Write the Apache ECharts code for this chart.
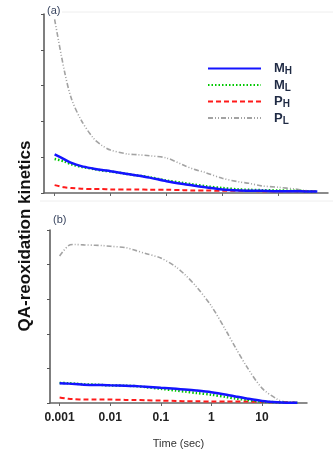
<!DOCTYPE html>
<html>
<head>
<meta charset="utf-8">
<script src="https://cdn.jsdelivr.net/npm/echarts@6/dist/echarts.min.js"></script>
<style>
  html, body { margin: 0; padding: 0; background: #fff; }
  #main { width: 335px; height: 450px; }
</style>
</head>
<body>
<div id="main"></div>
<script>
// 时间点 (秒)
var times = [0.001, 0.0015, 0.002, 0.003, 0.005, 0.007, 0.01, 0.02, 0.03, 0.05, 0.1,
             0.2, 0.3, 0.5, 1, 2, 3, 5, 10, 20, 30, 50];
var tickValues = [0.001, 0.01, 0.1, 1, 10];
var tickLabels = ['0.001', '0.01', '0.1', '1', '10'];
var names = ['MH', 'ML', 'PH', 'PL'];

// (a)
var aMH = [1.08, 0.94, 0.84, 0.75, 0.68, 0.64, 0.61, 0.53, 0.49, 0.43, 0.33,
           0.25, 0.21, 0.16, 0.10, 0.07, 0.065, 0.06, 0.05, 0.05, 0.045, 0.04];
var aML = [0.95, 0.88, 0.80, 0.73, 0.67, 0.63, 0.60, 0.53, 0.49, 0.44, 0.35,
           0.28, 0.24, 0.19, 0.14, 0.10, 0.09, 0.08, 0.07, 0.06, 0.05, 0.04];
var aPH = [0.22, 0.16, 0.14, 0.12, 0.11, 0.11, 0.10, 0.10, 0.10, 0.09, 0.09,
           0.08, 0.07, 0.07, 0.06, 0.06, 0.06, 0.05, 0.05, 0.05, 0.05, 0.04];
var aPL = [4.85, 3.40, 2.63, 2.03, 1.52, 1.33, 1.20, 1.09, 1.07, 1.04, 0.98,
           0.78, 0.67, 0.57, 0.41, 0.31, 0.27, 0.20, 0.16, 0.11, 0.07, 0.04];

// (b)
var bMH = [0.57, 0.56, 0.55, 0.53, 0.52, 0.52, 0.51, 0.50, 0.49, 0.47, 0.44,
           0.41, 0.39, 0.36, 0.31, 0.24, 0.19, 0.13, 0.06, 0.02, 0.01, 0.01];
var bML = [0.58, 0.57, 0.56, 0.54, 0.53, 0.52, 0.51, 0.50, 0.49, 0.46, 0.41,
           0.36, 0.33, 0.29, 0.24, 0.17, 0.13, 0.09, 0.04, 0.02, 0.01, 0.01];
var bPH = [0.16, 0.12, 0.11, 0.10, 0.10, 0.10, 0.10, 0.09, 0.09, 0.08, 0.07,
           0.06, 0.05, 0.05, 0.04, 0.04, 0.04, 0.04, 0.03, 0.02, 0.02, 0.01];
var bPL = [4.25, 4.55, 4.58, 4.57, 4.56, 4.55, 4.53, 4.49, 4.42, 4.32, 4.19,
           3.93, 3.71, 3.37, 2.80, 2.06, 1.60, 1.05, 0.43, 0.11, 0.02, 0.01];

var myChart = echarts.init(document.getElementById('main'));

function pts(vals) {
    return times.map(function (t, i) { return [Math.log10(t), vals[i]]; });
}

var styles = {
    MH: { color: '#1414ff', width: 2.5, type: 'solid' },
    ML: { color: '#00c800', width: 2.5, type: [1.5, 2] },
    PH: { color: '#ff1a1a', width: 2, type: [5, 3] },
    PL: { color: '#a3a3a3', width: 1.6, type: [5, 2, 1, 2, 1, 2] }
};

function mk(name, vals, idx) {
    var s = styles[name];
    return {
        name: name,
        type: 'line',
        xAxisIndex: idx,
        yAxisIndex: idx,
        data: pts(vals),
        symbol: 'none',
        smooth: 0.3,
        color: s.color,
        lineStyle: { color: s.color, width: s.width, type: s.type },
        z: name === 'PL' ? 1 : 3
    };
}

var logTicks = tickValues.map(function (v) { return Math.log10(v); });

function xAx(idx, showLabel) {
    return {
        type: 'value',
        gridIndex: idx,
        min: -3.19,
        max: 1.89,
        name: showLabel ? 'Time (sec)' : '',
        nameLocation: 'middle',
        nameGap: 35,
        nameTextStyle: { fontFamily: 'Arial, Liberation Sans', fontSize: 11, color: '#333' },
        axisLine: { onZero: false, lineStyle: { color: '#666', width: 1.5 } },
        axisTick: { show: true, length: 3, customValues: logTicks, lineStyle: { color: '#666' } },
        axisLabel: {
            show: showLabel,
            customValues: logTicks,
            margin: 9,
            fontFamily: 'Arial, Liberation Sans',
            fontWeight: 'bold',
            fontSize: 12,
            color: '#222',
            formatter: function (v) {
                var i = logTicks.findIndex(function (x) { return Math.abs(x - v) < 1e-6; });
                return i >= 0 ? tickLabels[i] : '';
            }
        },
        splitLine: { show: false }
    };
}

function yAx(idx) {
    return {
        type: 'value',
        gridIndex: idx,
        min: 0,
        max: 5,
        interval: 1,
        axisLine: { show: true, onZero: false, lineStyle: { color: '#555', width: 1.5 } },
        axisTick: { show: true, length: 3, lineStyle: { color: '#555' } },
        axisLabel: { show: false },
        splitLine: { show: false }
    };
}

var option = {
    animation: false,
    backgroundColor: '#fff',
    grid: [
        { left: 44, right: 7, top: 14, height: 179 },
        { left: 50, right: 28, top: 230, height: 177 }
    ],
    xAxis: [xAx(0, false), xAx(1, true)],
    yAxis: [yAx(0), yAx(1)],
    legend: {
        orient: 'vertical',
        left: 207,
        top: 62,
        padding: 0,
        itemWidth: 53,
        itemHeight: 10,
        itemGap: 2,
        data: names,
        itemStyle: { opacity: 0 },
        formatter: function (n) {
            return '{m|' + n.charAt(0) + '}{s|' + n.charAt(1) + '}';
        },
        textStyle: {
            color: '#1f2a44',
            rich: {
                m: { fontFamily: 'Arial, Liberation Sans', fontWeight: 'bold', fontSize: 13, padding: [0, 0, 0, 8] },
                s: { fontFamily: 'Arial, Liberation Sans', fontWeight: 'bold', fontSize: 10, padding: [6, 0, 0, 0] }
            }
        }
    },
    graphic: [
        { type: 'line', shape: { x1: 62, y1: 12, x2: 333, y2: 12 }, style: { stroke: '#eeeeee', lineWidth: 1 } },
        { type: 'line', shape: { x1: 40, y1: 201, x2: 333, y2: 201 }, style: { stroke: '#eeeeee', lineWidth: 1 } },
        { type: 'text', x: 47, y: 5, style: { text: '(a)', fontSize: 11, fontFamily: 'Arial, Liberation Sans', fill: '#3a4660' } },
        { type: 'text', x: 53, y: 214, style: { text: '(b)', fontSize: 11, fontFamily: 'Arial, Liberation Sans', fill: '#3a4660' } },
        {
            type: 'text', x: 25, y: 236, rotation: Math.PI / 2,
            style: {
                text: 'QA-reoxidation kinetics',
                fontSize: 17, fontWeight: 'bold', fontFamily: 'Arial, Liberation Sans',
                fill: '#111', align: 'center', verticalAlign: 'middle'
            }
        }
    ],
    series: [
        mk('PL', aPL, 0), mk('PH', aPH, 0), mk('ML', aML, 0), mk('MH', aMH, 0),
        mk('PL', bPL, 1), mk('PH', bPH, 1), mk('ML', bML, 1), mk('MH', bMH, 1)
    ]
};

myChart.setOption(option);
</script>
</body>
</html>
